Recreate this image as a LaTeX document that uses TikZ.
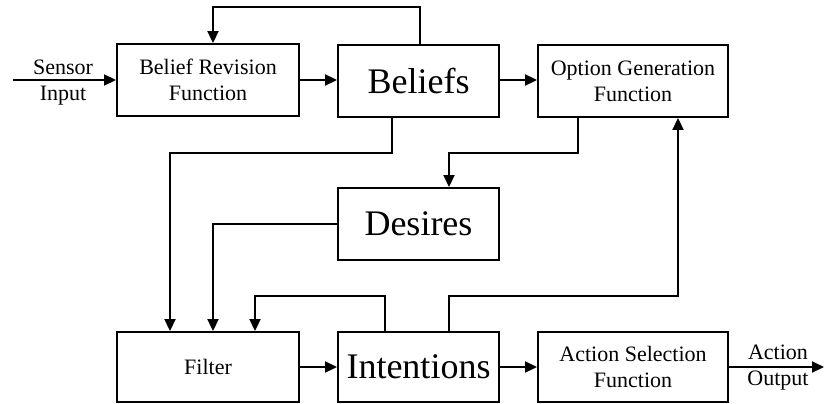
\documentclass[tikz,border=0pt]{standalone}
\usepackage{fontspec}
\setmainfont{Liberation Serif}
\usetikzlibrary{arrows.meta}
\begin{document}
\begin{tikzpicture}[x=1pt,y=-1pt,
  box/.style={draw,line width=1.9pt,minimum width=#1,minimum height=72pt,inner sep=0pt,align=center,font=\fontsize{22}{26}\selectfont},
  big/.style={font=\fontsize{36}{40}\selectfont},
  arr/.style={line width=1.9pt,-{Triangle[length=12pt,width=11pt]}},
  lbl/.style={align=center,font=\fontsize{22}{26}\selectfont,inner sep=0pt}]
\useasboundingbox (0,0) rectangle (825,404);
\node[box=182pt] (brf) at (208,80) {Belief Revision\\Function};
\node[box=161pt,big] (beliefs) at (418.5,81) {Beliefs};
\node[box=190pt] (ogf) at (633,81) {Option Generation\\Function};
\node[box=161pt,big] (desires) at (418.5,224) {Desires};
\node[box=182pt,minimum height=70pt] (filter) at (208,367) {Filter};
\node[box=161pt,minimum height=70pt,big] (intentions) at (418.5,367) {Intentions};
\node[box=190pt,minimum height=70pt] (asf) at (633,367) {Action Selection\\Function};
\node[lbl] (sensor) at (63,83) {Sensor\\Input};
\node[lbl] (action) at (778,368) {Action\\Output};
\coordinate (sin) at (13,80);
\coordinate (aout) at (824,367);
\coordinate (t1) at (420,7);
\coordinate (t2) at (213,7);
\coordinate (b1) at (392,153);
\coordinate (b2) at (170,153);
\coordinate (o1) at (578,153);
\coordinate (o2) at (449,153);
\coordinate (d1) at (213,224);
\coordinate (i1) at (385,296);
\coordinate (i2) at (255,296);
\coordinate (j1) at (449,296);
\coordinate (j2) at (678,296);
\draw[arr] (sin) -- (brf.west);
\draw[arr] (brf.east) -- (brf.east -| beliefs.west);
\draw[arr] (beliefs.east |- brf.east) -- (ogf.west |- brf.east);
\draw[arr] (beliefs.north -| t1) -- (t1) -- (t2) -- (brf.north -| t2);
\draw[arr] (beliefs.south -| b1) -- (b1) -- (b2) -- (filter.north -| b2);
\draw[arr] (ogf.south -| o1) -- (o1) -- (o2) -- (desires.north -| o2);
\draw[arr] (desires.west) -- (d1) -- (filter.north -| d1);
\draw[arr] (intentions.north -| i1) -- (i1) -- (i2) -- (filter.north -| i2);
\draw[arr] (intentions.north -| j1) -- (j1) -- (j2) -- (ogf.south -| j2);
\draw[arr] (filter.east) -- (intentions.west);
\draw[arr] (intentions.east) -- (asf.west);
\draw[arr] (asf.east) -- (aout);
\end{tikzpicture}
\end{document}
